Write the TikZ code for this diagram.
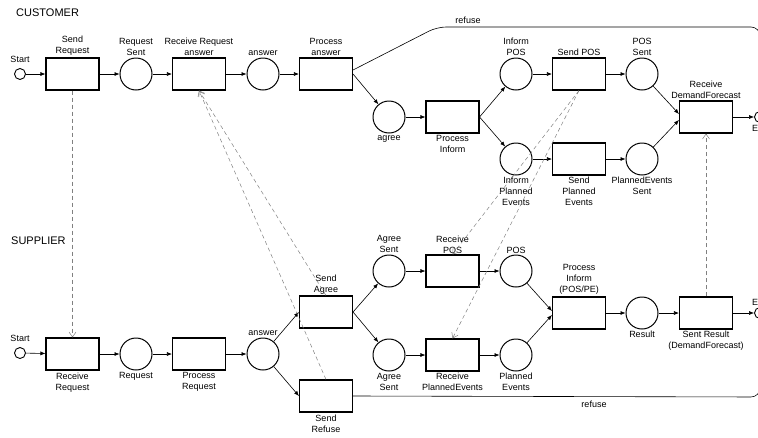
\documentclass[tikz,border=0pt]{standalone}
\usepackage{fontspec}
\setmainfont{Liberation Sans}
\usetikzlibrary{positioning,arrows.meta}
\newcommand{\lblfont}{\fontsize{9}{11}\selectfont}
\begin{document}
\begin{tikzpicture}[x=1pt, y=-1pt,
    trans/.style={draw, line width=1.1pt, minimum width=53pt, minimum height=32pt, inner sep=0pt},
    place/.style={circle, draw, line width=1pt, minimum size=32pt, inner sep=0pt},
    term/.style={circle, draw, line width=0.9pt, minimum size=11pt, inner sep=0pt},
    lbl/.style={font=\lblfont, align=center, inner sep=1pt},
    head/.style={font=\fontsize{11}{13}\selectfont, anchor=west, inner sep=0pt},
    flow/.style={-{Latex[length=5pt,width=4pt]}, line width=0.6pt},
    msg/.style={-{Straight Barb[length=5pt,width=7pt]}, gray, line width=0.5pt, dash pattern=on 4pt off 3pt}]
    \useasboundingbox (0,0) rectangle (758,437);

    % Customer net
    \node[head] (cust) at (16,12.5) {CUSTOMER};
    \node[term] (cstart) at (20,74) {};
    \node[trans] (csendreq) at (72.5,74) {};
    \node[place] (creqsent) at (136,74) {};
    \node[trans] (crecvans) at (199,74) {};
    \node[place] (cans) at (263,74) {};
    \node[trans] (cprocans) at (326,74) {};
    \node[place] (cagree) at (389,117) {};
    \node[trans] (cprocinf) at (452.5,117) {};
    \node[place] (cinfpos) at (516,74) {};
    \node[trans] (csendpos) at (579,74) {};
    \node[place] (cpossent) at (642,74) {};
    \node[place] (cinfpe) at (516,159) {};
    \node[trans] (csendpe) at (579,159) {};
    \node[place] (cpesent) at (642,159) {};
    \node[trans] (crecvdf) at (706,117) {};
    \node[term] (cend) at (760,117) {};

    % Customer labels
    \node[lbl, above=4pt of cstart] (cstartL) {Start};
    \node[lbl, above=0.5pt of csendreq] (csendreqL) {Send\\Request};
    \node[lbl, above=0.5pt of creqsent] (creqsentL) {Request\\Sent};
    \node[lbl, above=0.5pt of crecvans] (crecvansL) {Receive Request\\answer};
    \node[lbl, above=0.5pt of cans] (cansL) {answer};
    \node[lbl, above=0.5pt of cprocans] (cprocansL) {Process\\answer};
    \node[lbl, below=1pt of cagree] (cagreeL) {agree};
    \node[lbl, below=1pt of cprocinf] (cprocinfL) {Process\\Inform};
    \node[lbl, above=0.5pt of cinfpos] (cinfposL) {Inform\\POS};
    \node[lbl, above=0.5pt of csendpos] (csendposL) {Send POS};
    \node[lbl, above=0.5pt of cpossent] (cpossentL) {POS\\Sent};
    \node[lbl, below=0.5pt of cinfpe] (cinfpeL) {Inform\\Planned\\Events};
    \node[lbl, below=0.5pt of csendpe] (csendpeL) {Send\\Planned\\Events};
    \node[lbl, below=0.5pt of cpesent] (cpesentL) {PlannedEvents\\Sent};
    \node[lbl, above=0.5pt of crecvdf] (crecvdfL) {Receive\\DemandForecast};
    \node[lbl, below=1pt of cend] (cendL) {End};
    \node[lbl] (crefuseL) at (468,20) {refuse};

    % Customer arcs
    \draw[flow] (cstart) -- (csendreq);
    \draw[flow] (csendreq) -- (creqsent);
    \draw[flow] (creqsent) -- (crecvans);
    \draw[flow] (crecvans) -- (cans);
    \draw[flow] (cans) -- (cprocans);
    \draw[flow] (cprocans.east) -- (cagree);
    \draw[flow] (cagree) -- (cprocinf);
    \draw[flow] (cprocinf.east) -- (cinfpos);
    \draw[flow] (cprocinf.east) -- (cinfpe);
    \draw[flow] (cinfpos) -- (csendpos);
    \draw[flow] (csendpos) -- (cpossent);
    \draw[flow] (cinfpe) -- (csendpe);
    \draw[flow] (csendpe) -- (cpesent);
    \draw[flow] (cpossent) -- ([yshift=3pt]crecvdf.west);
    \draw[flow] (cpesent) -- ([yshift=-3pt]crecvdf.west);
    \draw[flow] (crecvdf) -- (cend);
    \draw[flow, rounded corners=9pt] ([yshift=4pt]cprocans.east) -- (437,27) -- (760,27) -- (cend);

    % Supplier net
    \node[head] (supp) at (11,240.5) {SUPPLIER};
    \node[term] (sstart) at (20,353) {};
    \node[trans] (srecvreq) at (72.5,354) {};
    \node[place] (sreq) at (136,354) {};
    \node[trans] (sprocreq) at (199,354) {};
    \node[place] (sans) at (263,354) {};
    \node[trans] (sagree) at (326,312) {};
    \node[trans] (srefuse) at (326,396) {};
    \node[place] (sagsent1) at (389,271) {};
    \node[place] (sagsent2) at (389,355) {};
    \node[trans] (srecvpos) at (452.5,271) {};
    \node[trans] (srecvpe) at (452.5,355) {};
    \node[place] (spos) at (516,271) {};
    \node[place] (spe) at (516,355) {};
    \node[trans] (sprocinf) at (579,313) {};
    \node[place] (sresult) at (642,313) {};
    \node[trans] (ssentres) at (706,313) {};
    \node[term] (supend) at (760,313) {};

    % Supplier labels
    \node[lbl, above=4pt of sstart] (sstartL) {Start};
    \node[lbl, below=1pt of srecvreq] (srecvreqL) {Receive\\Request};
    \node[lbl, below=1pt of sreq] (sreqL) {Request};
    \node[lbl, below=1pt of sprocreq] (sprocreqL) {Process\\Request};
    \node[lbl, above=0.5pt of sans] (sansL) {answer};
    \node[lbl, above=0pt of sagree] (sagreeL) {Send\\Agree};
    \node[lbl, below=1pt of srefuse] (srefuseL) {Send\\Refuse};
    \node[lbl, above=0.5pt of sagsent1] (sagsent1L) {Agree\\Sent};
    \node[lbl, below=0.5pt of sagsent2] (sagsent2L) {Agree\\Sent};
    \node[lbl, above=0pt of srecvpos] (srecvposL) {Receive\\POS};
    \node[lbl, below=0.5pt of srecvpe] (srecvpeL) {Receive\\PlannedEvents};
    \node[lbl, above=0pt of spos] (sposL) {POS};
    \node[lbl, below=0.5pt of spe] (speL) {Planned\\Events};
    \node[lbl, above=0.5pt of sprocinf] (sprocinfL) {Process\\Inform\\(POS/PE)};
    \node[lbl, below=0.5pt of sresult] (sresultL) {Result};
    \node[lbl, below=0.5pt of ssentres] (ssentresL) {Sent Result\\(DemandForecast)};
    \node[lbl, above=0pt of supend] (supendL) {End};
    \node[lbl] (srefuseL2) at (594,404) {refuse};

    % Supplier arcs
    \draw[flow] (sstart) -- (srecvreq);
    \draw[flow] (srecvreq) -- (sreq);
    \draw[flow] (sreq) -- (sprocreq);
    \draw[flow] (sprocreq) -- (sans);
    \draw[flow] (sans) -- (sagree.west);
    \draw[flow] (sans) -- (srefuse.west);
    \draw[flow] (sagree.east) -- (sagsent1);
    \draw[flow] (sagree.east) -- (sagsent2);
    \draw[flow] (sagsent1) -- (srecvpos);
    \draw[flow] (sagsent2) -- (srecvpe);
    \draw[flow] (srecvpos) -- (spos);
    \draw[flow] (srecvpe) -- (spe);
    \draw[flow] (spos) -- ([yshift=2pt]sprocinf.west);
    \draw[flow] (spe) -- ([yshift=-2pt]sprocinf.west);
    \draw[flow] (sprocinf) -- (sresult);
    \draw[flow] (sresult) -- (ssentres);
    \draw[flow] (ssentres) -- (supend);
    \draw[flow, rounded corners=9pt] (srefuse.east) -- (760,397) -- (supend);

    % Messages between the two nets
    \draw[msg] (csendreq) -- (srecvreq);
    \draw[msg] (sagree.north) -- (crecvans.south);
    \draw[msg] (srefuse.north) -- (crecvans.south);
    \draw[msg] (csendpos.south) -- (srecvpos.north);
    \draw[msg] (csendpos.south) -- (srecvpe.north);
    \draw[msg] (ssentres) -- (crecvdf);
\end{tikzpicture}
\end{document}
